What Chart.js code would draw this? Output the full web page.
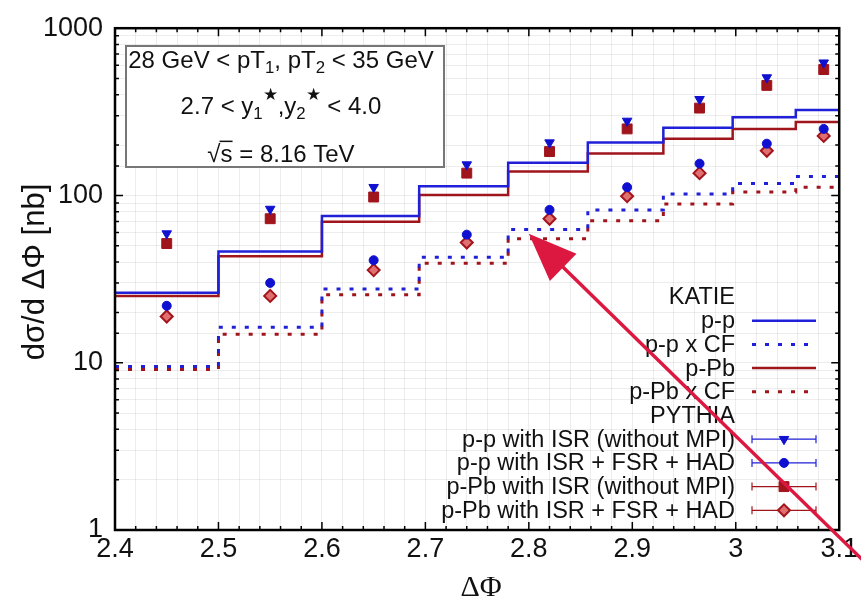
<!DOCTYPE html>
<html>
<head>
<meta charset="utf-8">
<script src="https://cdn.jsdelivr.net/npm/chart.js@4/dist/chart.umd.min.js"></script>
<style>
  html, body { margin: 0; padding: 0; background: #fff; }
  #wrap { width: 861px; height: 605px; }
</style>
</head>
<body>
<div id="wrap"><canvas id="c" width="861" height="605"></canvas></div>
<script>
// ΔΦ bin edges of the KATIE histograms
const binEdges = [2.4, 2.5, 2.6, 2.694, 2.78, 2.857, 2.93, 2.997, 3.058, 3.1];
// PYTHIA points are placed inside each bin
const pointPhi = [2.45, 2.55, 2.65, 2.74, 2.82, 2.895, 2.965, 3.03, 3.085];

// KATIE, dσ/dΔΦ [nb] per bin
const katiePP     = [26.2, 46.3, 75.5, 113.6, 157, 207, 254, 294, 324];
const katiePPcf   = [9.5, 16.3, 27.6, 42.7, 62.5, 82, 102, 118, 130];
const katiePPb    = [25.1, 43.3, 69.6, 100.5, 139, 178, 218, 250, 275];
const katiePPbcf  = [9.1, 14.8, 25.5, 39.3, 55.2, 70.6, 89, 105, 112];

// PYTHIA, dσ/dΔΦ [nb]
const pythiaPPisr   = [59.2, 83, 112, 153, 207, 279, 376, 507, 622];
const pythiaPPfull  = [21.9, 30, 41, 58.3, 82, 112, 155, 204, 250];
const pythiaPPbIsr  = [51.6, 72.6, 97.9, 136, 183, 250, 333, 455, 566];
const pythiaPPbFull = [18.9, 25.1, 35.8, 52.3, 72.6, 99, 136, 185, 227];

// axis tick labels
const xTickLabels = ['2.4', '2.5', '2.6', '2.7', '2.8', '2.9', '3', '3.1'];
const yTickLabels = ['1', '10', '100', '1000'];

// arrow pointing at the p-p x CF step, in data coordinates
const arrowTip  = { x: 2.8, y: 59 };
const arrowTail = { x: 3.125, y: 0.64 };

const BLUE = '#2020d8';
const RED = '#a0141c';
const SANS = '"Liberation Sans", Arial, sans-serif';

function histPoints(values) {
  return binEdges.map((e, i) => ({ x: e, y: values[Math.min(i, values.length - 1)] }));
}
function markerPoints(values) {
  return values.map((v, i) => ({ x: pointPhi[i], y: v }));
}

const markerSets = [
  { label: 'p-p with ISR (without MPI)', data: markerPoints(pythiaPPisr), pointStyle: 'triangle', rotation: 180, pointRadius: 5.5, backgroundColor: '#1010d0', borderColor: '#1010d0', borderWidth: 1 },
  { label: 'p-p with ISR + FSR + HAD', data: markerPoints(pythiaPPfull), pointStyle: 'circle', rotation: 0, pointRadius: 4.5, backgroundColor: '#1010d0', borderColor: '#1010d0', borderWidth: 1 },
  { label: 'p-Pb with ISR (without MPI)', data: markerPoints(pythiaPPbIsr), pointStyle: 'rect', rotation: 0, pointRadius: 7, backgroundColor: '#a0141c', borderColor: '#a0141c', borderWidth: 1 },
  { label: 'p-Pb with ISR + FSR + HAD', data: markerPoints(pythiaPPbFull), pointStyle: 'rectRot', rotation: 0, pointRadius: 6, backgroundColor: '#e07070', borderColor: '#a3141c', borderWidth: 2 }
].map(d => Object.assign(d, { showLine: false, pointHoverRadius: d.pointRadius }));

const lineSets = [
  { label: 'p-p', data: histPoints(katiePP), borderColor: BLUE, borderWidth: 2.5, borderDash: [] },
  { label: 'p-p x CF', data: histPoints(katiePPcf), borderColor: BLUE, borderWidth: 3, borderDash: [4, 9] },
  { label: 'p-Pb', data: histPoints(katiePPb), borderColor: RED, borderWidth: 2.5, borderDash: [] },
  { label: 'p-Pb x CF', data: histPoints(katiePPbcf), borderColor: RED, borderWidth: 3, borderDash: [4, 9] }
].map(d => Object.assign(d, { stepped: true, pointRadius: 0, fill: false, backgroundColor: d.borderColor }));

function isMajorX(v) { return Math.abs(v * 10 - Math.round(v * 10)) < 1e-6; }
function isMajorY(v) { const l = Math.log10(v); return Math.abs(l - Math.round(l)) < 1e-6; }

// frame and inward tick marks on all four sides
const framePlugin = {
  id: 'frame',
  afterDatasetsDraw(chart) {
    const { ctx, chartArea: a, scales } = chart;
    ctx.save();
    ctx.strokeStyle = '#000';
    ctx.lineWidth = 1.5;
    ctx.beginPath();
    scales.x.ticks.forEach(t => {
      const px = scales.x.getPixelForValue(t.value);
      const len = isMajorX(t.value) ? 8 : 4;
      ctx.moveTo(px, a.bottom); ctx.lineTo(px, a.bottom - len);
      ctx.moveTo(px, a.top); ctx.lineTo(px, a.top + len);
    });
    scales.y.ticks.forEach(t => {
      const py = scales.y.getPixelForValue(t.value);
      const len = isMajorY(t.value) ? 8 : 4;
      ctx.moveTo(a.left, py); ctx.lineTo(a.left + len, py);
      ctx.moveTo(a.right, py); ctx.lineTo(a.right - len, py);
    });
    ctx.stroke();
    ctx.lineWidth = 2.5;
    ctx.strokeRect(a.left, a.top, a.right - a.left, a.bottom - a.top);
    ctx.restore();
  }
};

// draws a run of text pieces with sub/superscripts, centred on cx
function richText(ctx, pieces, cx, cy, size) {
  const fontSize = p => (p.m === 'n' ? size : size * 0.7);
  const widths = pieces.map(p => {
    ctx.font = fontSize(p) + 'px ' + SANS;
    return ctx.measureText(p.t).width;
  });
  let x = cx - widths.reduce((s, w) => s + w, 0) / 2;
  pieces.forEach((p, i) => {
    ctx.font = fontSize(p) + 'px ' + SANS;
    let y = cy;
    if (p.m === 'sub') y = cy + size * 0.3;
    if (p.m === 'sup') y = cy - size * 0.5;
    ctx.fillText(p.t, x, y);
    if (p.over) {
      ctx.fillRect(x - 1, cy - size * 0.6, widths[i] + 1, 1.5);
    }
    x += widths[i];
  });
}

const annotationPlugin = {
  id: 'annotations',
  afterDatasetsDraw(chart) {
    const { ctx, chartArea: a } = chart;
    ctx.save();
    // kinematic cuts box
    const bx = 126, by = 46, bw = 318, bh = 121;
    ctx.fillStyle = '#fff';
    ctx.fillRect(bx, by, bw, bh);
    ctx.strokeStyle = '#777';
    ctx.lineWidth = 2;
    ctx.strokeRect(bx, by, bw, bh);
    ctx.fillStyle = '#111';
    ctx.textAlign = 'left';
    ctx.textBaseline = 'middle';
    const cx = 281;
    richText(ctx, [
      { t: '28 GeV < pT', m: 'n' }, { t: '1', m: 'sub' },
      { t: ', pT', m: 'n' }, { t: '2', m: 'sub' }, { t: ' < 35 GeV', m: 'n' }
    ], cx, 61, 24);
    richText(ctx, [
      { t: '2.7 < y', m: 'n' }, { t: '1', m: 'sub' }, { t: '★', m: 'sup' },
      { t: ',y', m: 'n' }, { t: '2', m: 'sub' }, { t: '★', m: 'sup' }, { t: ' < 4.0', m: 'n' }
    ], cx, 107, 24);
    richText(ctx, [
      { t: '√', m: 'n' }, { t: 's', m: 'n', over: true }, { t: ' = 8.16 TeV', m: 'n' }
    ], cx, 155, 24);

    // legend
    const tx = 735, sx0 = 752, sx1 = 816, smid = 784;
    const rowY = i => 297 + i * 23.7;
    ctx.font = '23.5px ' + SANS;
    ctx.textAlign = 'right';
    const rows = [
      { t: 'KATIE' }, { t: 'p-p', ds: lineSets[0] }, { t: 'p-p x CF', ds: lineSets[1] },
      { t: 'p-Pb', ds: lineSets[2] }, { t: 'p-Pb x CF', ds: lineSets[3] },
      { t: 'PYTHIA' }, { t: markerSets[0].label, mk: markerSets[0], c: '#2020d8' },
      { t: markerSets[1].label, mk: markerSets[1], c: '#2020d8' },
      { t: markerSets[2].label, mk: markerSets[2], c: '#a0141c' },
      { t: markerSets[3].label, mk: markerSets[3], c: '#a0141c' }
    ];
    rows.forEach((r, i) => {
      const y = rowY(i);
      ctx.fillStyle = '#111';
      ctx.fillText(r.t, tx, y + 1);
      if (r.ds) {
        ctx.strokeStyle = r.ds.borderColor;
        ctx.lineWidth = r.ds.borderWidth;
        ctx.setLineDash(r.ds.borderDash);
        ctx.beginPath(); ctx.moveTo(sx0, y); ctx.lineTo(sx1, y); ctx.stroke();
        ctx.setLineDash([]);
      }
      if (r.mk) {
        ctx.strokeStyle = r.c;
        ctx.lineWidth = 1.2;
        ctx.beginPath();
        ctx.moveTo(sx0, y); ctx.lineTo(sx1, y);
        ctx.moveTo(sx0, y - 4); ctx.lineTo(sx0, y + 4);
        ctx.moveTo(sx1, y - 4); ctx.lineTo(sx1, y + 4);
        ctx.stroke();
        ctx.fillStyle = r.mk.backgroundColor;
        ctx.strokeStyle = r.mk.borderColor;
        ctx.lineWidth = r.mk.borderWidth;
        Chart.helpers.drawPoint(ctx, {
          pointStyle: r.mk.pointStyle, rotation: r.mk.rotation,
          radius: r.mk.pointRadius, borderWidth: r.mk.borderWidth
        }, smid, y);
      }
    });

    // axis titles
    ctx.fillStyle = '#111';
    ctx.textAlign = 'center';
    ctx.textBaseline = 'middle';
    ctx.font = '30px "Liberation Serif", "Times New Roman", serif';
    ctx.fillText('ΔΦ', 481, 588);
    ctx.save();
    ctx.translate(35, 272);
    ctx.rotate(-Math.PI / 2);
    ctx.font = '31px ' + SANS;
    ctx.fillText('dσ/d ΔΦ [nb]', 0, 0);
    ctx.restore();
    ctx.restore();
  },
  afterDraw(chart) {
    const { ctx, scales } = chart;
    const tip = { x: scales.x.getPixelForValue(arrowTip.x), y: scales.y.getPixelForValue(arrowTip.y) };
    const tail = { x: scales.x.getPixelForValue(arrowTail.x), y: scales.y.getPixelForValue(arrowTail.y) };
    const dx = tail.x - tip.x, dy = tail.y - tip.y;
    const len = Math.hypot(dx, dy);
    const ux = dx / len, uy = dy / len;
    const headLen = 48, headHalf = 19;
    const bxp = tip.x + ux * headLen, byp = tip.y + uy * headLen;
    ctx.save();
    ctx.strokeStyle = '#dc1840';
    ctx.fillStyle = '#dc1840';
    ctx.lineWidth = 3.5;
    ctx.beginPath();
    ctx.moveTo(bxp - ux * 4, byp - uy * 4);
    ctx.lineTo(tail.x, tail.y);
    ctx.stroke();
    ctx.beginPath();
    ctx.moveTo(tip.x, tip.y);
    ctx.lineTo(bxp - uy * headHalf, byp + ux * headHalf);
    ctx.lineTo(bxp + uy * headHalf, byp - ux * headHalf);
    ctx.closePath();
    ctx.fill();
    ctx.restore();
  }
};

new Chart(document.getElementById('c'), {
  type: 'line',
  data: { datasets: [...markerSets, ...lineSets] },
  options: {
    responsive: false,
    animation: false,
    devicePixelRatio: 1,
    layout: { padding: { top: 22, right: 21, left: 0, bottom: 0 } },
    plugins: { legend: { display: false }, tooltip: { enabled: false } },
    scales: {
      x: {
        type: 'linear',
        min: 2.4, max: 3.1,
        border: { display: false },
        grid: { color: 'rgba(0,0,0,0.07)', drawTicks: false, lineWidth: 1 },
        ticks: {
          stepSize: 0.02,
          autoSkip: false,
          maxRotation: 0,
          padding: 3,
          color: '#111',
          font: { family: SANS, size: 27 },
          callback: v => {
            if (!isMajorX(v)) return '';
            const s = String(Math.round(v * 10) / 10);
            return xTickLabels.includes(s) ? s : '';
          }
        },
        afterFit: s => { s.height = 75; }
      },
      y: {
        type: 'logarithmic',
        min: 1, max: 1000,
        border: { display: false },
        grid: { color: 'rgba(0,0,0,0.07)', drawTicks: false, lineWidth: 1 },
        ticks: {
          autoSkip: false,
          padding: 12,
          color: '#111',
          font: { family: SANS, size: 27 },
          callback: v => {
            if (!isMajorY(v)) return '';
            const s = String(Math.round(v));
            return yTickLabels.includes(s) ? s : '';
          }
        },
        afterFit: s => { s.width = 115; }
      }
    }
  },
  plugins: [framePlugin, annotationPlugin]
});
</script>
</body>
</html>
